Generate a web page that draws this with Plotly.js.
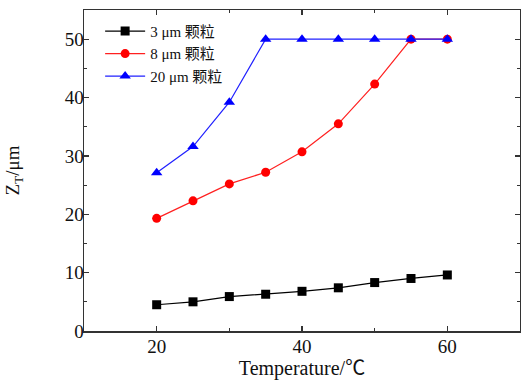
<!DOCTYPE html>
<html>
<head>
<meta charset="utf-8">
<script src="https://cdn.plot.ly/plotly-3.0.1.min.js"></script>
<style>html,body{margin:0;padding:0;background:#fff;}#chart{width:521px;height:380px;}</style>
</head>
<body>
<div id="chart"></div>
<script>
const temperature = [20, 25, 30, 35, 40, 45, 50, 55, 60];
const z3um = [4.5, 5.0, 5.9, 6.3, 6.8, 7.4, 8.3, 9.0, 9.6];
const z8um = [19.3, 22.3, 25.2, 27.2, 30.7, 35.5, 42.3, 50, 50];
const z20um = [27.1, 31.6, 39.2, 50, 50, 50, 50, 50, 50];
const seriesNames = ['3 μm 颗粒', '8 μm 颗粒', '20 μm 颗粒'];

const fontFam = '"Liberation Serif", "Times New Roman", "Noto Sans CJK SC", serif';

const traces = [
  {x: temperature, y: z3um, name: seriesNames[0], mode: 'lines+markers',
   line: {color: '#000000', width: 1.2}, marker: {symbol: 'square', size: 9, color: '#000000'}},
  {x: temperature, y: z8um, name: seriesNames[1], mode: 'lines+markers',
   line: {color: '#ff2020', width: 1.2}, marker: {symbol: 'circle', size: 9, color: '#ff0000'}},
  {x: temperature, y: z20um, name: seriesNames[2], mode: 'lines+markers',
   line: {color: '#2020ff', width: 1.2}, marker: {symbol: 'triangle-up', size: 10, color: '#0000ff'}}
];

const axisCommon = {
  showgrid: false, zeroline: false, showline: true, mirror: 'ticks',
  linecolor: '#333', linewidth: 1.5, ticks: 'inside', ticklen: 5, tickwidth: 1.3, tickcolor: '#333',
  tickfont: {family: fontFam, size: 19, color: '#111'},
  minor: {ticks: 'inside', ticklen: 3, tickcolor: '#333', tickwidth: 1}
};

const layout = {
  width: 521, height: 380,
  margin: {l: 84, r: 1, t: 10, b: 49},
  paper_bgcolor: '#fff', plot_bgcolor: '#fff',
  showlegend: true,
  legend: {x: 0.037, y: 0.985, xanchor: 'left', yanchor: 'top', bgcolor: 'rgba(0,0,0,0)',
           font: {family: fontFam, size: 15, color: '#111'}, tracegroupgap: 0, itemwidth: 40},
  xaxis: Object.assign({}, axisCommon, {
    range: [10, 70], tickvals: [20, 40, 60], minor: Object.assign({}, axisCommon.minor, {tickvals: [30, 50]}),
    ticklabelstandoff: -2,
    title: {text: 'Temperature/℃', font: {family: fontFam, size: 20, color: '#111'}, standoff: 2}
  }),
  yaxis: Object.assign({}, axisCommon, {
    range: [0, 55], tickvals: [0, 10, 20, 30, 40, 50], minor: Object.assign({}, axisCommon.minor, {tickvals: [5, 15, 25, 35, 45]}),
    ticklabelstandoff: -5,
    title: {text: 'Z<sub>T</sub>/μm', font: {family: fontFam, size: 19, color: '#111'}, standoff: 40}
  })
};

Plotly.newPlot('chart', traces, layout, {staticPlot: true, displayModeBar: false});
</script>
</body>
</html>
